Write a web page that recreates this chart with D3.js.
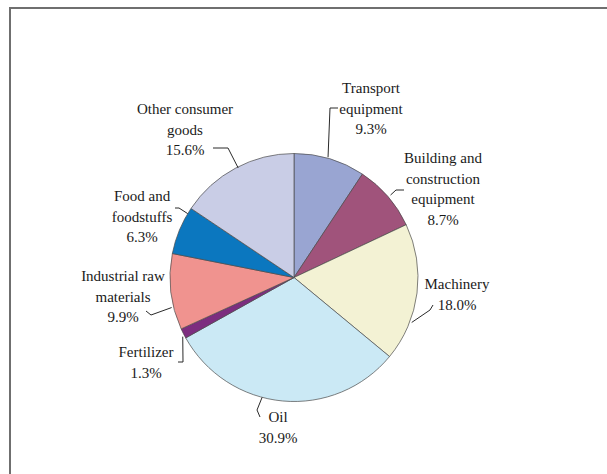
<!DOCTYPE html>
<html>
<head>
<meta charset="utf-8">
<script src="https://cdn.jsdelivr.net/npm/d3@7"></script>
<style>
  html, body { margin: 0; padding: 0; background: #fff; }
  svg { display: block; }
  text { font-family: "Liberation Serif", "Times New Roman", serif; fill: #1a1a1a; }
</style>
</head>
<body>
<svg id="chart" width="607" height="474"></svg>
<script>
// Composition of imports, share of total (%)
const categories = [
  "Transport equipment",
  "Building and construction equipment",
  "Machinery",
  "Oil",
  "Fertilizer",
  "Industrial raw materials",
  "Food and foodstuffs",
  "Other consumer goods"
];
const shares = [9.3, 8.7, 18.0, 30.9, 1.3, 9.9, 6.3, 15.6];
const labelLines = [
  ["Transport", "equipment"],
  ["Building and", "construction", "equipment"],
  ["Machinery"],
  ["Oil"],
  ["Fertilizer"],
  ["Industrial raw", "materials"],
  ["Food and", "foodstuffs"],
  ["Other consumer", "goods"]
];
const colors = ["#99a5d2", "#a0537b", "#f3f2d4", "#cbe9f5", "#7c2d7f", "#f0938f", "#0b77bf", "#c9cde6"];

// Label placement: text centre and leader path (start angle on the rim, then elbows)
const labelLayout = [
  { x: 371, y: 88,  leadAngle: 15.8,  leadR: 125, elbows: [[330, 108], [338, 108]] },
  { x: 443, y: 158, leadAngle: 49.5,  leadR: 127, elbows: [[396, 190], [404, 190]] },
  { x: 457, y: 284, leadAngle: 110.9, leadR: 126, elbows: [[430, 310], [433, 305]] },
  { x: 278, y: 417, leadAngle: 194.9, leadR: 124, elbows: [[257, 410], [260, 417]] },
  { x: 146, y: 352, leadAngle: 242,   leadR: 126, elbows: [[183, 362], [178, 362]] },
  { x: 123, y: 276, leadAngle: 256.2, leadR: 126, elbows: [[151, 315], [146, 311]] },
  { x: 142, y: 196, leadAngle: 301,   leadR: 124, elbows: [[179, 208], [175, 208]] },
  { x: 185, y: 109, leadAngle: 333,   leadR: 123, elbows: [[228, 148], [213, 148]] }
];

const svg = d3.select("#chart");
const cx = 294, cy = 277.5, radius = 124;
const lineStep = 20.5;

// Frame (only its top and left edges fall inside the window)
svg.append("rect")
  .attr("x", 10).attr("y", 8)
  .attr("width", 700).attr("height", 600)
  .attr("fill", "none")
  .attr("stroke", "#6f6f6f")
  .attr("stroke-width", 2);

const data = categories.map((c, i) => ({ category: c, value: shares[i], index: i }));

const pie = d3.pie().value(d => d.value).sort(null);
const arc = d3.arc().innerRadius(0).outerRadius(radius);
const arcs = pie(data);

const g = svg.append("g").attr("transform", `translate(${cx},${cy})`);

g.selectAll("path.slice")
  .data(arcs)
  .join("path")
  .attr("class", "slice")
  .attr("d", arc)
  .attr("fill", d => colors[d.data.index])
  .attr("stroke", "#4a4a4a")
  .attr("stroke-width", 0.7)
  .attr("stroke-linejoin", "round");

// Leader lines
const rad = Math.PI / 180;
const leader = d3.line();
svg.selectAll("path.leader")
  .data(labelLayout)
  .join("path")
  .attr("class", "leader")
  .attr("d", (L) => {
    const a = L.leadAngle * rad;
    const start = [cx + L.leadR * Math.sin(a), cy - L.leadR * Math.cos(a)];
    return leader([start, ...L.elbows]);
  })
  .attr("fill", "none")
  .attr("stroke", "#2a2a2a")
  .attr("stroke-width", 1);

// Labels: category name lines followed by the percentage
const fmt = d3.format(".1f");
const labels = svg.selectAll("text.label")
  .data(data)
  .join("text")
  .attr("class", "label")
  .attr("text-anchor", "middle")
  .attr("font-size", 15);

labels.each(function (d) {
  const L = labelLayout[d.index];
  const lines = labelLines[d.index].concat([fmt(d.value) + "%"]);
  d3.select(this).selectAll("tspan")
    .data(lines)
    .join("tspan")
    .attr("x", L.x)
    .attr("y", (s, j) => L.y + j * lineStep)
    .attr("dy", "0.35em")
    .text(s => s);
});
</script>
</body>
</html>
